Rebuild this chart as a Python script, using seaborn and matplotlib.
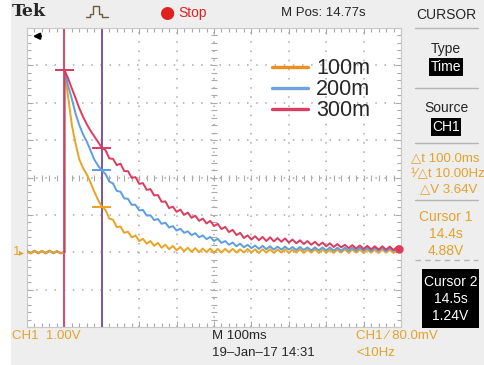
import matplotlib
matplotlib.use("Agg")
import matplotlib.pyplot as plt
from matplotlib.patches import Rectangle
from matplotlib.lines import Line2D
import seaborn as sns
import pandas as pd

# ---- data (time in ms from left edge, volts) ----
labels = ["100m", "200m", "300m"]
colors = ["#eaa323", "#5c9ee0", "#dd3b5e"]
legend_colors = ["#ec8f1c", "#6fa3e0", "#d9405f"]

pre_trigger = {
    "100m": [0.02, -0.03, 0.03, -0.02, 0.04, -0.03, 0.03, -0.02, 0.03, -0.02, 0.0],
    "200m": [0.03, -0.02, 0.04, -0.03, 0.03, -0.02, 0.04, -0.03, 0.02, -0.02, 0.0],
    "300m": [0.03, -0.03, 0.04, -0.02, 0.03, -0.03, 0.04, -0.02, 0.03, -0.03, 0.0],
}

orange_v = [4.88, 4.15, 3.40, 2.90, 2.48, 2.25, 2.08, 1.86, 1.62, 1.40,
            1.22, 1.13, 0.90, 0.87, 0.67, 0.69, 0.52, 0.55, 0.40, 0.45,
            0.30, 0.36, 0.23, 0.30, 0.17, 0.25, 0.12, 0.20, 0.08, 0.17,
            0.05, 0.14, 0.03, 0.12, 0.01, 0.11, 0.00, 0.10, 0.00, 0.10,
            -0.01, 0.09, -0.01, 0.09, 0.00, 0.09, -0.01, 0.08, -0.01, 0.09,
            -0.01, 0.08, -0.02, 0.08, -0.01, 0.08, -0.02, 0.07, -0.01, 0.08,
            -0.02, 0.07, -0.01, 0.08, -0.02, 0.07, -0.01, 0.08, -0.02, 0.07,
            -0.01, 0.07, -0.02, 0.07, -0.01, 0.08, -0.02, 0.07, -0.01, 0.07,
            -0.02, 0.07, -0.01, 0.07, -0.02, 0.07, -0.01, 0.07, -0.02, 0.07,
            0.00]
blue_v = [4.88, 4.45, 4.10, 3.70, 3.40, 3.15, 2.96, 2.72, 2.48, 2.32,
          2.19, 2.09, 1.89, 1.84, 1.64, 1.62, 1.44, 1.43, 1.27, 1.27,
          1.12, 1.13, 0.98, 0.99, 0.86, 0.89, 0.76, 0.79, 0.66, 0.70,
          0.58, 0.63, 0.52, 0.56, 0.46, 0.51, 0.40, 0.45, 0.35, 0.41,
          0.30, 0.36, 0.25, 0.30, 0.20, 0.26, 0.16, 0.23, 0.13, 0.20,
          0.11, 0.18, 0.09, 0.17, 0.08, 0.16, 0.07, 0.15, 0.07, 0.15,
          0.07, 0.14, 0.06, 0.14, 0.06, 0.13, 0.05, 0.13, 0.05, 0.13,
          0.05, 0.13, 0.04, 0.12, 0.04, 0.12, 0.04, 0.12, 0.04, 0.12,
          0.04, 0.12, 0.03, 0.12, 0.04, 0.11, 0.03, 0.11, 0.04, 0.11,
          0.06]
red_v = [4.88, 4.65, 4.38, 4.12, 3.85, 3.62, 3.42, 3.25, 3.10, 2.95,
         2.80, 2.73, 2.51, 2.50, 2.33, 2.37, 2.17, 2.17, 1.99, 2.01,
         1.83, 1.85, 1.67, 1.69, 1.52, 1.53, 1.35, 1.36, 1.18, 1.22,
         1.08, 1.14, 1.00, 1.06, 0.92, 0.98, 0.84, 0.90, 0.77, 0.84,
         0.70, 0.76, 0.62, 0.68, 0.54, 0.60, 0.46, 0.52, 0.38, 0.45,
         0.34, 0.43, 0.32, 0.41, 0.30, 0.40, 0.29, 0.38, 0.28, 0.37,
         0.26, 0.34, 0.24, 0.32, 0.22, 0.30, 0.20, 0.28, 0.18, 0.26,
         0.16, 0.24, 0.14, 0.22, 0.13, 0.20, 0.11, 0.19, 0.10, 0.18,
         0.09, 0.17, 0.08, 0.16, 0.07, 0.16, 0.07, 0.15, 0.06, 0.15,
         0.10]
decay = {"100m": orange_v, "200m": blue_v, "300m": red_v}

cursor_ms = [100, 200]
cursor_colors = ["#d64a6c", "#7d55a3"]

W, H = 484, 365
SANS = ["Liberation Sans", "DejaVu Sans"]
ORANGE_TXT = "#e4a22a"
FS = 9.5


def fx(px):
    return px / W


def fy(py):
    return 1 - py / H


# ---- long format frame for seaborn ----
rows = []
for name in labels:
    for i, v in enumerate(pre_trigger[name]):
        rows.append({"t": 10 * i, "v": v, "probe": name, "part": "pre"})
    rows.append({"t": 100, "v": 0.0, "probe": name, "part": "decay"})
    for i, v in enumerate(decay[name]):
        rows.append({"t": 100 + 10 * i, "v": v, "probe": name, "part": "decay"})
traces = pd.DataFrame(rows)

sns.set_theme(style="white")
plt.rcParams["font.family"] = SANS

fig = plt.figure(figsize=(W / 100, H / 100), dpi=100, facecolor="#eeeeee")
fig.patches.append(Rectangle((0, 0), fx(11), 1, transform=fig.transFigure,
                             facecolor="white", edgecolor="none", zorder=0))

ax = fig.add_axes([fx(27), fy(327), fx(374), (327 - 28) / H])
ax.set_facecolor("white")
ax.set_xlim(0, 1000)
ax.set_ylim(-2, 6)

# graticule
for t in range(100, 1000, 100):
    ax.axvline(t, color="#aaaaaa", lw=1.1, ls=(0, (1, 5)), zorder=1)
for v in range(-1, 6):
    ax.axhline(v, color="#aaaaaa", lw=1.1, ls=(0, (1, 5)), zorder=1)
ax.plot(list(range(0, 1001, 20)), [2] * 51, ls="none", marker="|",
        ms=4, mew=0.8, color="#aaaaaa", zorder=1)
ax.plot([500] * 41, [-2 + 0.2 * k for k in range(41)], ls="none", marker="_",
        ms=4, mew=0.8, color="#aaaaaa", zorder=1)
ax.set_xticks(range(0, 1001, 100))
ax.set_yticks(range(-2, 7))
ax.set_xticks(range(0, 1001, 20), minor=True)
ax.set_yticks([-2 + 0.2 * k for k in range(41)], minor=True)
ax.tick_params(which="both", direction="in", top=True, right=True, bottom=True,
               left=True, labelbottom=False, labelleft=False, color="#aaaaaa",
               width=0.8)
ax.tick_params(which="major", length=4)
ax.tick_params(which="minor", length=3)
for sp in ax.spines.values():
    sp.set_color("#c8c8c8")
    sp.set_linewidth(0.8)

# cursors
for t, c in zip(cursor_ms, cursor_colors):
    ax.axvline(t, color=c, lw=1.4, zorder=2)

# traces
sns.lineplot(data=traces[traces["part"] == "pre"], x="t", y="v", hue="probe",
             hue_order=labels[::-1], palette=dict(zip(labels, colors)),
             estimator=None, sort=False, lw=1.4, legend=False, ax=ax, zorder=3)
sns.lineplot(data=traces[traces["part"] == "decay"], x="t", y="v", hue="probe",
             hue_order=labels, palette=dict(zip(labels, colors)),
             estimator=None, sort=False, lw=1.4, ax=ax, zorder=3)

# cursor crosshair dashes on each trace
for name, c in zip(labels, colors):
    vals = decay[name]
    for t in cursor_ms:
        v = vals[(t - 100) // 10]
        ax.hlines(v, t - 25, t + 25, color=c, lw=1.4, zorder=4)
ax.plot([995], [red_v[-1]], marker="o", ms=5, color=colors[2], zorder=5,
        clip_on=False)

ax.set_xlabel("")
ax.set_ylabel("")
handles = [Line2D([], [], color=c, lw=2.4) for c in legend_colors]
ax.legend(handles, labels, loc="upper left",
          bbox_to_anchor=((257 - 27) / 374, (327 - 43) / 299),
          frameon=False, handlelength=1.65, handletextpad=0.4,
          labelspacing=0.0, borderpad=0.2,
          prop={"family": SANS, "size": 15.5})
ax.annotate("", xy=(8, 5.78), xytext=(45, 5.78),
            arrowprops=dict(arrowstyle="-|>", color="black", lw=1.6,
                            mutation_scale=9))

# ground marker
fig.text(fx(13), fy(252), "1", color=ORANGE_TXT, fontsize=FS, va="center",
         ha="left")
fig.text(fx(19), fy(252), "\u25b8", color=ORANGE_TXT, fontsize=7, va="center",
         ha="left", family="DejaVu Sans")

# header
fig.text(fx(12), fy(12), "Tek", fontsize=12.5, fontweight="bold",
         family=["DejaVu Serif"], va="center", ha="left")
px = [86, 90, 90, 93, 93, 99, 99, 102, 102, 108]
py = [17, 17, 14, 14, 6, 6, 14, 14, 17, 17]
fig.add_artist(Line2D([fx(p) for p in px], [fy(p) for p in py],
                      transform=fig.transFigure, color="#6b5b45", lw=1.0))
fig.text(fx(159), fy(13), "\u25cf", color="#e02020", fontsize=12.5,
         va="center", ha="left", family="DejaVu Sans")
fig.text(fx(178), fy(13), "Stop", color="#e02020", fontsize=FS + 0.5,
         va="center", ha="left")
fig.text(fx(281), fy(13), "M Pos: 14.77s", fontsize=FS, va="center",
         ha="left")

# right cursor menu
cx = fx(446)
fig.text(cx, fy(15), "CURSOR", fontsize=FS + 0.5, va="center", ha="center")
for yy in [28, 88, 143, 200]:
    fig.add_artist(Line2D([fx(415), fx(478)], [fy(yy), fy(yy)],
                          transform=fig.transFigure, color="#b5b5b5", lw=1))
fig.add_artist(Line2D([fx(415), fx(478)], [fy(260), fy(260)],
                      transform=fig.transFigure, color="#b5b5b5", lw=1,
                      ls=(0, (4, 3))))
box = dict(facecolor="black", edgecolor="none", boxstyle="square,pad=0.12")
fig.text(cx, fy(49), "Type", fontsize=FS + 0.5, va="center", ha="center")
fig.text(cx, fy(67), "Time", fontsize=FS + 0.5, va="center", ha="center",
         color="white", bbox=box)
fig.text(cx, fy(108), "Source", fontsize=FS + 0.5, va="center", ha="center")
fig.text(cx, fy(127), "CH1", fontsize=FS + 0.5, va="center", ha="center",
         color="white", bbox=box)
fig.text(fx(411), fy(158), "\u25b3t 100.0ms", fontsize=FS, va="center",
         ha="left", color=ORANGE_TXT)
fig.text(fx(411), fy(174), "\u00b9\u2044\u25b3t 10.00Hz", fontsize=FS,
         va="center", ha="left", color=ORANGE_TXT)
fig.text(fx(420), fy(189), "\u25b3V 3.64V", fontsize=FS, va="center",
         ha="left", color=ORANGE_TXT)
fig.text(cx, fy(217), "Cursor 1", fontsize=FS + 0.5, va="center", ha="center",
         color=ORANGE_TXT)
fig.text(cx, fy(234), "14.4s", fontsize=FS + 0.5, va="center", ha="center",
         color=ORANGE_TXT)
fig.text(cx, fy(251), "4.88V", fontsize=FS + 0.5, va="center", ha="center",
         color=ORANGE_TXT)
fig.patches.append(Rectangle((fx(422), fy(328)), fx(57), (328 - 269) / H,
                             transform=fig.transFigure, facecolor="black",
                             edgecolor="none"))
fig.text(fx(450.5), fy(282), "Cursor 2", fontsize=FS + 0.5, va="center",
         ha="center", color="white")
fig.text(fx(450.5), fy(299), "14.5s", fontsize=FS + 0.5, va="center",
         ha="center", color="white")
fig.text(fx(450.5), fy(316), "1.24V", fontsize=FS + 0.5, va="center",
         ha="center", color="white")

# footer
fig.text(fx(12), fy(336), "CH1  1.00V", fontsize=FS, va="center", ha="left",
         color=ORANGE_TXT)
fig.text(fx(212), fy(336), "M 100ms", fontsize=FS, va="center", ha="left")
fig.text(fx(212), fy(353), "19\u2013Jan\u201317 14:31", fontsize=FS,
         va="center", ha="left")
fig.text(fx(356), fy(336), "CH1 \u2215 80.0mV", fontsize=FS, va="center",
         ha="left", color=ORANGE_TXT)
fig.text(fx(356), fy(353), "<10Hz", fontsize=FS, va="center", ha="left",
         color=ORANGE_TXT)

fig.savefig("out.png", dpi=100, facecolor=fig.get_facecolor())
plt.close(fig)
